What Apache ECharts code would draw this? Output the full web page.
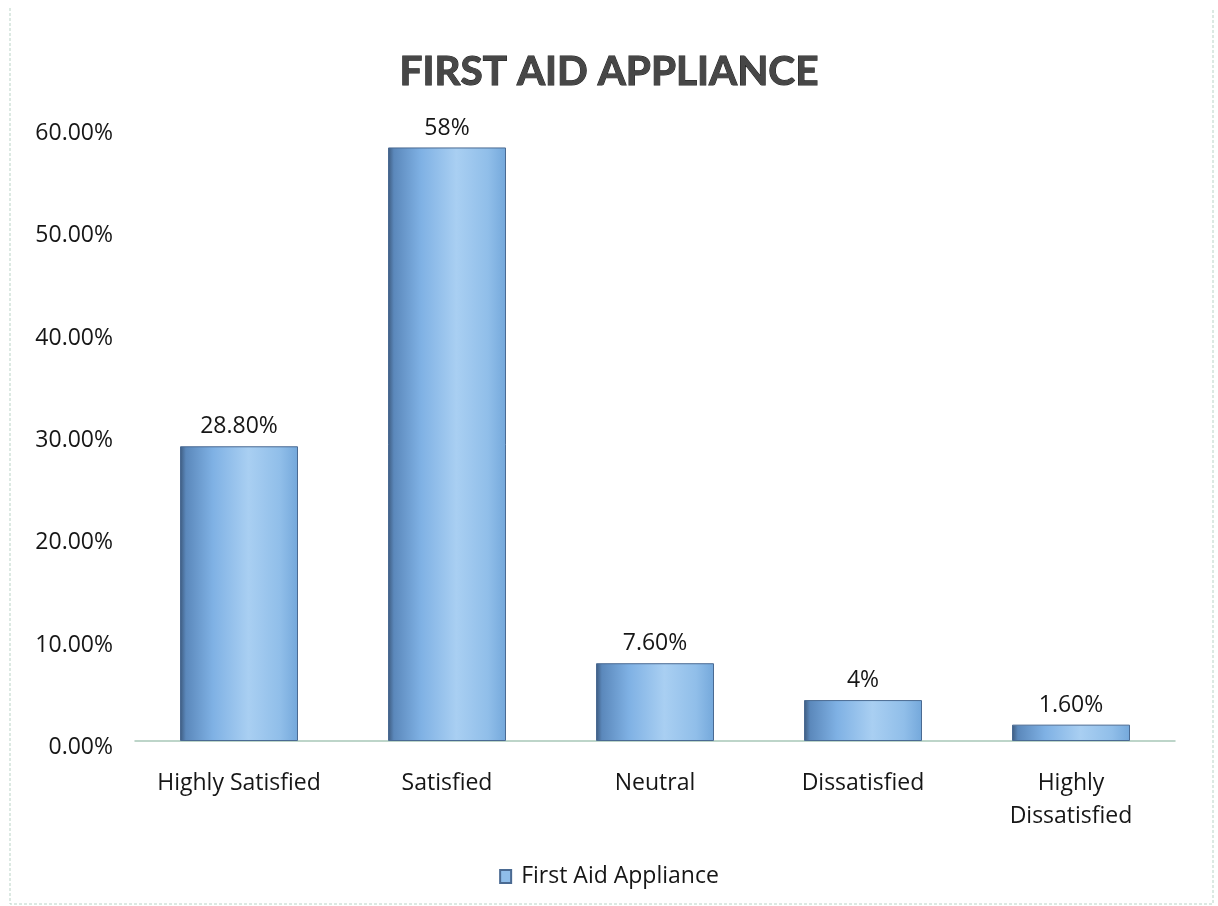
<!DOCTYPE html>
<html>
<head>
<meta charset="utf-8">
<title>First Aid Appliance</title>
<script src="https://cdn.jsdelivr.net/npm/echarts@6/dist/echarts.min.js"></script>
<style>
  html, body { margin: 0; padding: 0; background: #ffffff; }
  #chart { width: 1218px; height: 906px; }
</style>
</head>
<body>
<div id="chart"></div>
<script>
// Satisfaction levels and the share of respondents for each
const categories = ['Highly Satisfied', 'Satisfied', 'Neutral', 'Dissatisfied', 'Highly Dissatisfied'];
const shares = [0.288, 0.58, 0.076, 0.04, 0.016];
const shareLabels = ['28.80%', '58%', '7.60%', '4%', '1.60%'];
const seriesName = 'First Aid Appliance';
const chartTitle = 'FIRST AID APPLIANCE';

const FONT = '"Open Sans", "Noto Sans", sans-serif';
const TITLE_FONT = 'Lato, "Open Sans", sans-serif';
const TEXT = '#161616';
const SIZE = 23;

// Cylinder-like shading across each bar
const barFill = new echarts.graphic.LinearGradient(0, 0, 1, 0, [
  { offset: 0.00, color: '#3d5a7e' },
  { offset: 0.05, color: '#5b88bb' },
  { offset: 0.28, color: '#7fb1e4' },
  { offset: 0.58, color: '#a9cff2' },
  { offset: 0.85, color: '#90bee9' },
  { offset: 1.00, color: '#74a8db' }
]);

const chart = echarts.init(document.getElementById('chart'), null, { renderer: 'canvas' });

chart.setOption({
  backgroundColor: '#ffffff',
  animation: false,
  title: {
    text: chartTitle,
    left: 'center',
    top: 46,
    textStyle: {
      fontFamily: TITLE_FONT,
      fontSize: 40.5,
      fontWeight: 'bold',
      color: '#474747',
      textBorderColor: '#1c1c1c',
      textBorderWidth: 1
    }
  },
  grid: { left: 135, right: 43, top: 127, bottom: 165, containLabel: false },
  legend: {
    bottom: 13,
    left: 'center',
    icon: 'rect',
    itemWidth: 11,
    itemHeight: 13,
    itemStyle: { color: '#8fbde9' },
    textStyle: { fontFamily: FONT, fontSize: SIZE, color: TEXT, padding: [0, 0, 0, 5] },
    data: [seriesName]
  },
  xAxis: {
    type: 'category',
    data: categories,
    axisLine: { show: true, lineStyle: { color: '#a8c8b8', width: 1.5 } },
    axisTick: { show: false },
    axisLabel: {
      fontFamily: FONT,
      fontSize: SIZE,
      color: TEXT,
      lineHeight: 33,
      margin: 26,
      interval: 0,
      formatter: v => v.replace('Highly Dissatisfied', 'Highly\nDissatisfied')
    }
  },
  yAxis: {
    type: 'value',
    min: 0,
    max: 0.6,
    interval: 0.1,
    axisLine: { show: false },
    axisTick: { show: false },
    splitLine: { show: false },
    axisLabel: {
      margin: 22,
      formatter: v => '{t|' + (v * 100).toFixed(2) + '%}',
      rich: {
        t: {
          fontFamily: FONT,
          fontSize: SIZE,
          color: TEXT,
          padding: [13, 0, 0, 0]
        }
      }
    }
  },
  series: [{
    name: seriesName,
    type: 'bar',
    data: shares,
    barWidth: 118,
    itemStyle: {
      color: barFill,
      borderColor: '#4a6a92',
      borderWidth: 1
    },
    label: {
      show: true,
      position: 'top',
      distance: 8,
      fontFamily: FONT,
      fontSize: SIZE,
      color: TEXT,
      formatter: p => shareLabels[p.dataIndex]
    }
  }],
  graphic: [{
    type: 'polyline',
    silent: true,
    shape: { points: [[10, 8], [10, 904], [1213, 904], [1213, 8]] },
    style: { stroke: '#b9d3c6', lineWidth: 1, lineDash: [3, 2], fill: null }
  }]
});
</script>
</body>
</html>
